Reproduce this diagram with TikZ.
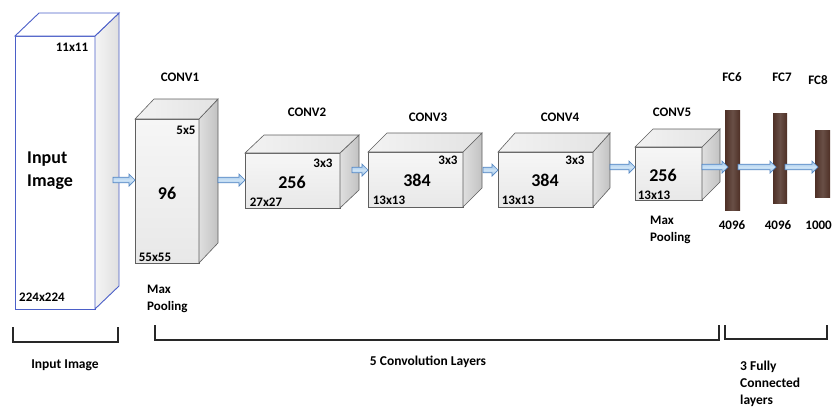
\documentclass[tikz,border=0pt]{standalone}
\usepackage{fontspec}
\setmainfont{Carlito}
\usetikzlibrary{calc}
\definecolor{edgegray}{RGB}{95,95,95}
\definecolor{inblue}{RGB}{75,95,200}
\definecolor{arrfill}{RGB}{165,205,238}
\definecolor{arredge}{RGB}{85,135,195}
\definecolor{fcbrown}{RGB}{78,48,38}
\definecolor{brk}{RGB}{40,40,40}

% cuboid: name, x, y, width, height, dx, dy, style prefix
\newcommand\drawcuboid[8]{%
  \node[#8 front, minimum width=#4pt, minimum height=#5pt, anchor=north west] (#1) at (#2,#3) {};
  \path[#8 side] (#1.north east) -- ++(#6,-#7) -- ($(#1.south east)+(#6,-#7)$) -- (#1.south east) -- cycle;
  \path[#8 top] (#1.north west) -- ++(#6,-#7) -- ($(#1.north east)+(#6,-#7)$) -- (#1.north east) -- cycle;
}
% horizontal block arrow from a coordinate to a target point
\newcommand\blockarrow[2]{%
  \draw[blockarr] let \p1=(#1), \p2=(#2) in
    (\x1,{\y1+2.8pt}) -- ({\x2-6pt},{\y1+2.8pt}) -- ({\x2-6pt},{\y1+6pt}) -- (\x2,\y1)
    -- ({\x2-6pt},{\y1-6pt}) -- ({\x2-6pt},{\y1-2.8pt}) -- (\x1,{\y1-2.8pt}) -- cycle;
}

\begin{document}
\begin{tikzpicture}[x=1pt,y=-1pt,
  cube front/.style={draw=edgegray, line width=0.6pt, top color=gray!7, bottom color=gray!18, inner sep=0pt, outer sep=0pt},
  cube side/.style={draw=edgegray, line width=0.6pt, left color=gray!25, right color=gray!48},
  cube top/.style={draw=edgegray, line width=0.6pt, left color=gray!10, right color=gray!22},
  inp front/.style={draw=inblue, line width=0.9pt, fill=white, inner sep=0pt, outer sep=0pt},
  inp side/.style={draw=inblue, line width=0.9pt, left color=gray!8, right color=gray!25},
  inp top/.style={draw=inblue, line width=0.9pt, fill=white},
  fcbar/.style={left color=fcbrown, right color=fcbrown, middle color=fcbrown!85!white, draw=none, inner sep=0pt, outer sep=0pt},
  blockarr/.style={draw=arredge, line width=0.7pt, top color=arrfill!80!arredge, bottom color=arrfill!80!arredge, middle color=arrfill!55!white},
  lbl/.style={font=\bfseries\fontsize{13}{17}\selectfont, inner sep=0pt},
  big/.style={font=\bfseries\fontsize{18}{22}\selectfont, inner sep=0pt},
  grp/.style={font=\bfseries\fontsize{13.5}{17}\selectfont, inner sep=0pt},
  bracket/.style={draw=brk, line width=1.6pt}
]
\useasboundingbox (0,0) rectangle (833,408);

% layers
\drawcuboid{inp}{15}{36}{80}{273}{24}{23}{inp}
\drawcuboid{conv1}{135}{119}{64}{144}{19}{20}{cube}
\drawcuboid{conv2}{245}{153}{95}{55}{19}{18}{cube}
\drawcuboid{conv3}{368}{152}{95}{55}{19}{19}{cube}
\drawcuboid{conv4}{498}{152}{95}{55}{17}{19}{cube}
\drawcuboid{conv5}{635}{147}{67}{53}{18}{18}{cube}

\node[fcbar, minimum width=15pt, minimum height=100pt, anchor=north west] (fc6) at (725,110) {};
\node[fcbar, minimum width=14pt, minimum height=90pt, anchor=north west] (fc7) at (773,113) {};
\node[fcbar, minimum width=15pt, minimum height=67pt, anchor=north west] (fc8) at (815,130) {};

% arrows between layers
\coordinate (a1) at (113,180);
\coordinate (a2) at (218,180);
\coordinate (a3) at (352,170);
\coordinate (a4) at (483,170);
\coordinate (a5) at (610,167);
\coordinate (a6) at (702,167);
\coordinate (a7) at (738,167);
\coordinate (a8) at (785,167);
\blockarrow{a1}{conv1.west |- a1}
\blockarrow{a2}{conv2.west |- a2}
\blockarrow{a3}{conv3.west |- a3}
\blockarrow{a4}{conv4.west |- a4}
\blockarrow{a5}{conv5.west |- a5}
\blockarrow{a6}{$(fc6.west |- a6)+(3,0)$}
\blockarrow{a7}{$(fc7.west |- a7)+(3,0)$}
\blockarrow{a8}{$(fc8.west |- a8)+(3,0)$}

% input labels
\node[lbl] (t11) at (72,47) {11x11};
\node[big, anchor=west, align=left, font=\bfseries\fontsize{18}{23}\selectfont] (tin) at (27,171) {Input\\Image};
\node[lbl] (t224) at (42,297) {224x224};

% conv1
\node[lbl] (c1) at (180,77) {CONV1};
\node[lbl] (c1k) at (186,130) {5x5};
\node[big] (c1n) at (167,193) {96};
\node[lbl] (c1s) at (155,257) {55x55};
\node[lbl, anchor=north west, align=left] (c1p) at (147,285) {Max\\Pooling};

% conv2
\node[lbl] (c2) at (307,112) {CONV2};
\node[lbl] (c2k) at (323,163) {3x3};
\node[big] (c2n) at (292,182) {256};
\node[lbl] (c2s) at (266,202) {27x27};

% conv3
\node[lbl] (c3) at (428,117) {CONV3};
\node[lbl] (c3k) at (448,160) {3x3};
\node[big] (c3n) at (417,180) {384};
\node[lbl] (c3s) at (389,200) {13x13};

% conv4
\node[lbl] (c4) at (560,117) {CONV4};
\node[lbl] (c4k) at (575,160) {3x3};
\node[big] (c4n) at (545,180) {384};
\node[lbl] (c4s) at (518,200) {13x13};

% conv5
\node[lbl] (c5) at (672,112) {CONV5};
\node[big] (c5n) at (663,175) {256};
\node[lbl] (c5s) at (654,195) {13x13};
\node[lbl, anchor=north west, align=left] (c5p) at (650,216) {Max\\Pooling};

% fully connected
\node[lbl] (f6) at (732,77) {FC6};
\node[lbl] (f7) at (782,77) {FC7};
\node[lbl] (f8) at (818,80) {FC8};
\node[lbl] (f6n) at (732,225) {4096};
\node[lbl] (f7n) at (778,225) {4096};
\node[lbl, anchor=east] (f8n) at (832,225) {1000};

% group brackets
\draw[bracket] (13,327) -- (13,342) -- (118,342) -- (118,327);
\draw[bracket] (155,325) -- (155,340) -- (719,340) -- (719,325);
\draw[bracket] (725,325) -- (725,339) -- (827,339) -- (827,325);
\node[grp] (g1) at (65,365) {Input Image};
\node[grp] (g2) at (428,362) {5 Convolution Layers};
\node[grp, anchor=north west, align=left] (g3) at (740,361) {3 Fully\\Connected\\layers};
\end{tikzpicture}
\end{document}
